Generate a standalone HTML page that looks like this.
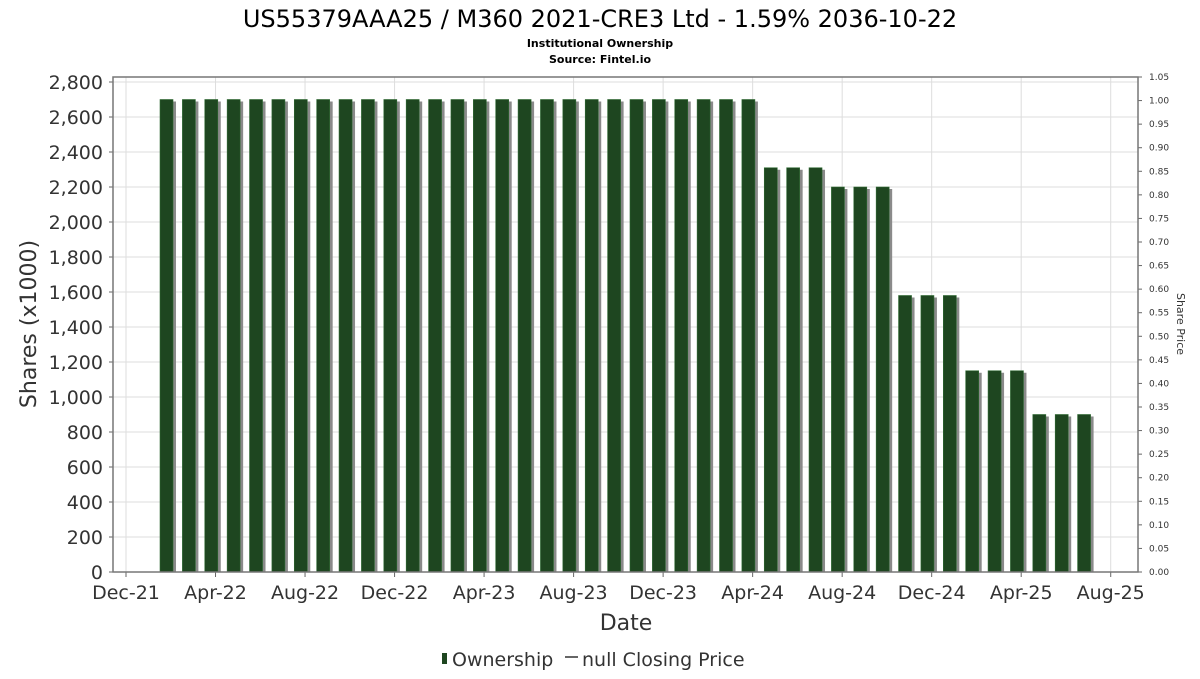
<!DOCTYPE html>
<html><head><meta charset="utf-8"><style>
body{margin:0;background:#fff;font-family:"DejaVu Sans","Liberation Sans",sans-serif}
</style></head><body>
<svg id="c" width="1200" height="675" xmlns="http://www.w3.org/2000/svg">
<text x="600" y="27" text-anchor="middle" font-size="24" fill="#000">US55379AAA25 / M360 2021-CRE3 Ltd - 1.59% 2036-10-22</text>
<text x="600" y="47" text-anchor="middle" font-size="11" font-weight="bold">Institutional Ownership</text>
<text x="600" y="63" text-anchor="middle" font-size="11" font-weight="bold">Source: Fintel.io</text>
<g id="grid"></g><g id="bars"></g><g id="axes"></g>
<text transform="translate(36,324) rotate(-90)" text-anchor="middle" font-size="22" fill="#333">Shares (x1000)</text>
<text transform="translate(1177,324) rotate(90)" text-anchor="middle" font-size="11" fill="#333">Share Price</text>
<text x="626" y="630" text-anchor="middle" font-size="22" fill="#333">Date</text>
<g>
<rect x="442" y="653" width="5" height="11" fill="#1e4620"/>
<text x="452" y="666" font-size="19" fill="#333">Ownership</text>
<line x1="565" y1="657" x2="578" y2="657" stroke="#333" stroke-width="1.5"/>
<text x="582" y="666" font-size="19" fill="#333">null Closing Price</text>
</g>
</svg>
<script>
const barMonths=[];for(let i=0;i<42;i++)barMonths.push(1.81+i);
const shares=[2700,2700,2700,2700,2700,2700,2700,2700,2700,2700,2700,2700,2700,2700,2700,2700,2700,2700,2700,2700,2700,2700,2700,2700,2700,2700,2700,2310,2310,2310,2200,2200,2200,1580,1580,1580,1150,1150,1150,900,900,900];
const yTicks=[0,200,400,600,800,1000,1200,1400,1600,1800,2000,2200,2400,2600,2800];
const xTickLabels=["Dec-21","Apr-22","Aug-22","Dec-22","Apr-23","Aug-23","Dec-23","Apr-24","Aug-24","Dec-24","Apr-25","Aug-25"];
const priceTicks=[];for(let i=0;i<=21;i++)priceTicks.push(i*0.05);
const L=113,R=1138,T=77,B=572;
const x=m=>126+m*22.38;
const y=v=>B-v*0.175;
const yp=p=>B-p*(B-T)/1.05;
const NS="http://www.w3.org/2000/svg";
function el(t,a,p){const e=document.createElementNS(NS,t);for(const k in a)e.setAttribute(k,a[k]);document.getElementById(p).appendChild(e);return e;}
yTicks.forEach(v=>{
 const g=el('line',{x1:L,x2:R,y1:y(v),y2:y(v),stroke:'#ddd'},'grid');
 
 
 const t=el('text',{x:103,y:y(v)+7,'text-anchor':'end','font-size':19,fill:'#333'},'axes');
 t.textContent=v.toLocaleString('en-US');
 
 
 el('line',{x1:L-4,x2:L,y1:y(v),y2:y(v),stroke:'#666'},'axes');
});
xTickLabels.forEach((s,i)=>{
 const xx=x(i*4);
 const g=el('line',{x1:xx,x2:xx,y1:T,y2:B,stroke:'#ddd'},'grid');
 
 
 el('line',{x1:xx,x2:xx,y1:B,y2:B+5,stroke:'#666'},'axes');
 const t=el('text',{x:xx,y:599,'text-anchor':'middle','font-size':19,fill:'#333'},'axes');
 t.textContent=s;
 
 
});
priceTicks.forEach(p=>{
 el('line',{x1:R,x2:R+4,y1:yp(p),y2:yp(p),stroke:'#666'},'axes');
 const t=el('text',{x:R+11,y:yp(p)+3,'font-size':9,fill:'#333'},'axes');
 t.textContent=p.toFixed(2);
 
 
});
shares.forEach((v,i)=>{
 const cx=x(barMonths[i]);
 const s=el('rect',{x:cx-6.5+3,y:y(v)+2,width:13,height:B-y(v)-2,fill:'#8a8a8a'},'bars');
 
 
 const b=el('rect',{x:cx-6.5,y:y(v),width:13,height:B-y(v),fill:'#1e4620',stroke:'#2f6a33','stroke-width':0.6},'bars');
 
 
});
const f=el('rect',{x:L,y:T,width:R-L,height:B-T,fill:'none',stroke:'#777','stroke-width':1.5},'axes');


</script>
</body></html>
